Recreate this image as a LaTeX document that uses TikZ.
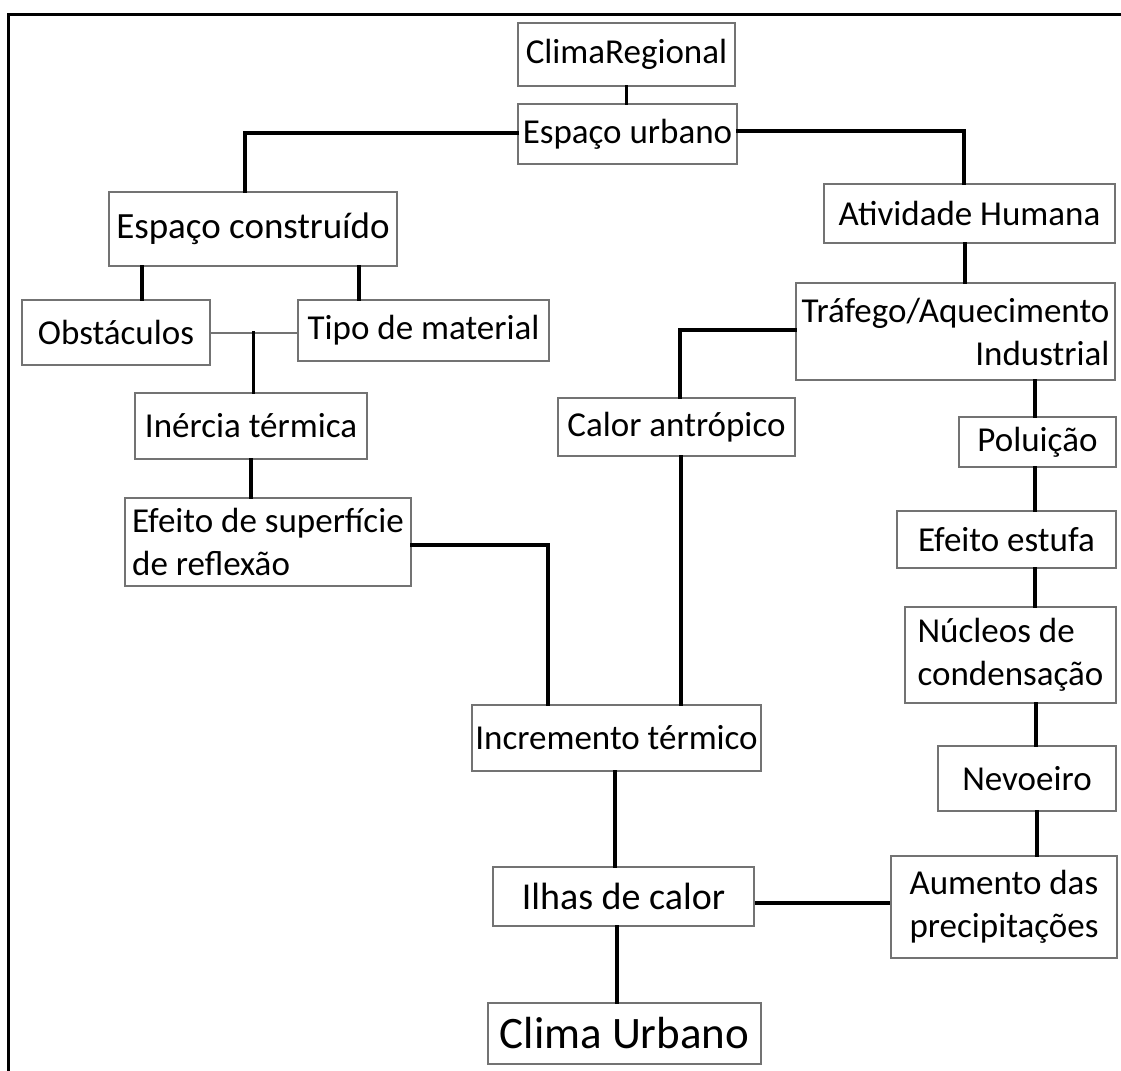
\documentclass[tikz,border=0pt]{standalone}
\usepackage{fontspec}
\setmainfont{Carlito}
\usetikzlibrary{calc}
\tikzset{
  bx/.style n args={2}{draw=black!55, line width=1pt, inner sep=0pt, fill=white,
    minimum width=#1*0.5pt, minimum height=#2*0.5pt,
    font=\fontsize{17.5pt}{21.5pt}\selectfont},
  conn/.style={line width=1.7pt, line cap=rect},
  thinconn/.style={draw=black!55, line width=1pt},
}
\begin{document}
\begin{tikzpicture}[x=0.5pt,y=-0.5pt]
\useasboundingbox (0,0) rectangle (1121,1071);
\draw[line width=1.5pt] (8,1071) -- (8,14) -- (1121,14);

\node[bx={217}{63}] (clima) at (626.5,54.5) {ClimaRegional};
\node[bx={219}{60}] (urbano) at (627.5,134) {Espaço urbano};
\node[bx={288}{74}, font=\fontsize{18.5pt}{22pt}\selectfont] (construido) at (253,229) {Espaço construído};
\node[bx={291}{59}] (humana) at (969.5,213.5) {Atividade Humana};
\node[bx={188}{65}] (obst) at (116,332.5) {Obstáculos};
\node[bx={251}{61}] (tipo) at (423.5,330.5) {Tipo de material};
\node[bx={319}{97}, align=right] (trafego) at (955.5,331.5) {Tráfego/Aquecimento\\Industrial};
\node[bx={232}{66}] (inercia) at (251,426) {Inércia térmica};
\node[bx={237}{58}] (calor) at (676.5,427) {Calor antrópico};
\node[bx={157}{50}] (poluicao) at (1037.5,442) {Poluição};
\node[bx={286}{88}, align=left] (efeito) at (268,542) {Efeito de superfície\\de reflexão};
\node[bx={219}{57}] (estufa) at (1006.5,539.5) {Efeito estufa};
\node[bx={211}{96}, align=left] (nucleos) at (1010.5,655) {Núcleos de\\condensação};
\node[bx={289}{66}] (incremento) at (616.5,738) {Incremento térmico};
\node[bx={178}{65}] (nevoeiro) at (1027,778.5) {Nevoeiro};
\node[bx={226}{102}, align=left] (aumento) at (1004,907) {Aumento das\\precipitações};
\node[bx={261}{59}, font=\fontsize{19pt}{22pt}\selectfont] (ilhas) at (623.5,896.5) {Ilhas de calor};
\node[bx={273}{61}, font=\fontsize{22.5pt}{27pt}\selectfont] (climaurb) at (624.5,1033.5) {Clima Urbano};

% helper coordinates on node borders
\coordinate (hs) at ($(humana.south)+(-4.5,0)$);
\coordinate (cs) at ($(calor.south)+(4.5,0)$);
\coordinate (pn) at ($(poluicao.north)+(-2.5,0)$);
\coordinate (ps) at ($(poluicao.south)+(-2.5,0)$);
\coordinate (nn) at ($(nucleos.north)+(24.5,0)$);
\coordinate (ns) at ($(nucleos.south)+(25.5,0)$);
\coordinate (vs) at ($(nevoeiro.south)+(10,0)$);
\coordinate (on) at ($(obst.north)+(26,0)$);
\coordinate (cse) at ($(construido.south east)+(-39,0)$);
\coordinate (oe) at ($(obst.east)+(0,0.5)$);
\coordinate (te) at (oe -| tipo.west);
\coordinate (j) at ($(oe)!0.5!(te)+(-0.5,0)$);
\coordinate (is) at ($(incremento.south)+(-1.5,0)$);
\coordinate (ils) at ($(ilhas.south)+(-6.5,0)$);
\coordinate (ile) at ($(ilhas.east)+(0,6.5)$);

% connectors
\draw[conn] (clima.south) -- (clima.south |- urbano.north);
\draw[conn] ($(urbano.west)+(0,-1)$) -| ($(construido.north)+(-8,0)$);
\draw[conn] ($(urbano.east)+(0,-3)$) -| ($(humana.north)+(-5.5,0)$);
\draw[conn] (hs) -- (hs |- trafego.north);
\draw[conn] ($(trafego.west)+(0,-1.5)$) -| ($(calor.north)+(3.5,0)$);
\draw[conn] (cs) -- (cs |- incremento.north);
\draw[conn] (pn) -- (pn |- trafego.south);
\draw[conn] (ps) -- (ps |- estufa.north);
\draw[conn] (nn) -- (nn |- estufa.south);
\draw[conn] (ns) -- (ns |- nevoeiro.north);
\draw[conn] (vs) -- (vs |- aumento.north);

\draw[conn] (on) -- (on |- construido.south);
\draw[conn] (cse) -- (cse |- tipo.north);
\draw[thinconn] (oe) -- (te);
\draw[conn] (j) -- (j |- inercia.north);
\draw[conn] (inercia.south) -- (inercia.south |- efeito.north);
\draw[conn] ($(efeito.east)+(0,3)$) -| ($(incremento.north)+(-68.5,0)$);

\draw[conn] (is) -- (is |- ilhas.north);
\draw[conn] (ils) -- (ils |- climaurb.north);
\draw[line width=2.3pt] (ile) -- (ile -| aumento.west);
\end{tikzpicture}
\end{document}
